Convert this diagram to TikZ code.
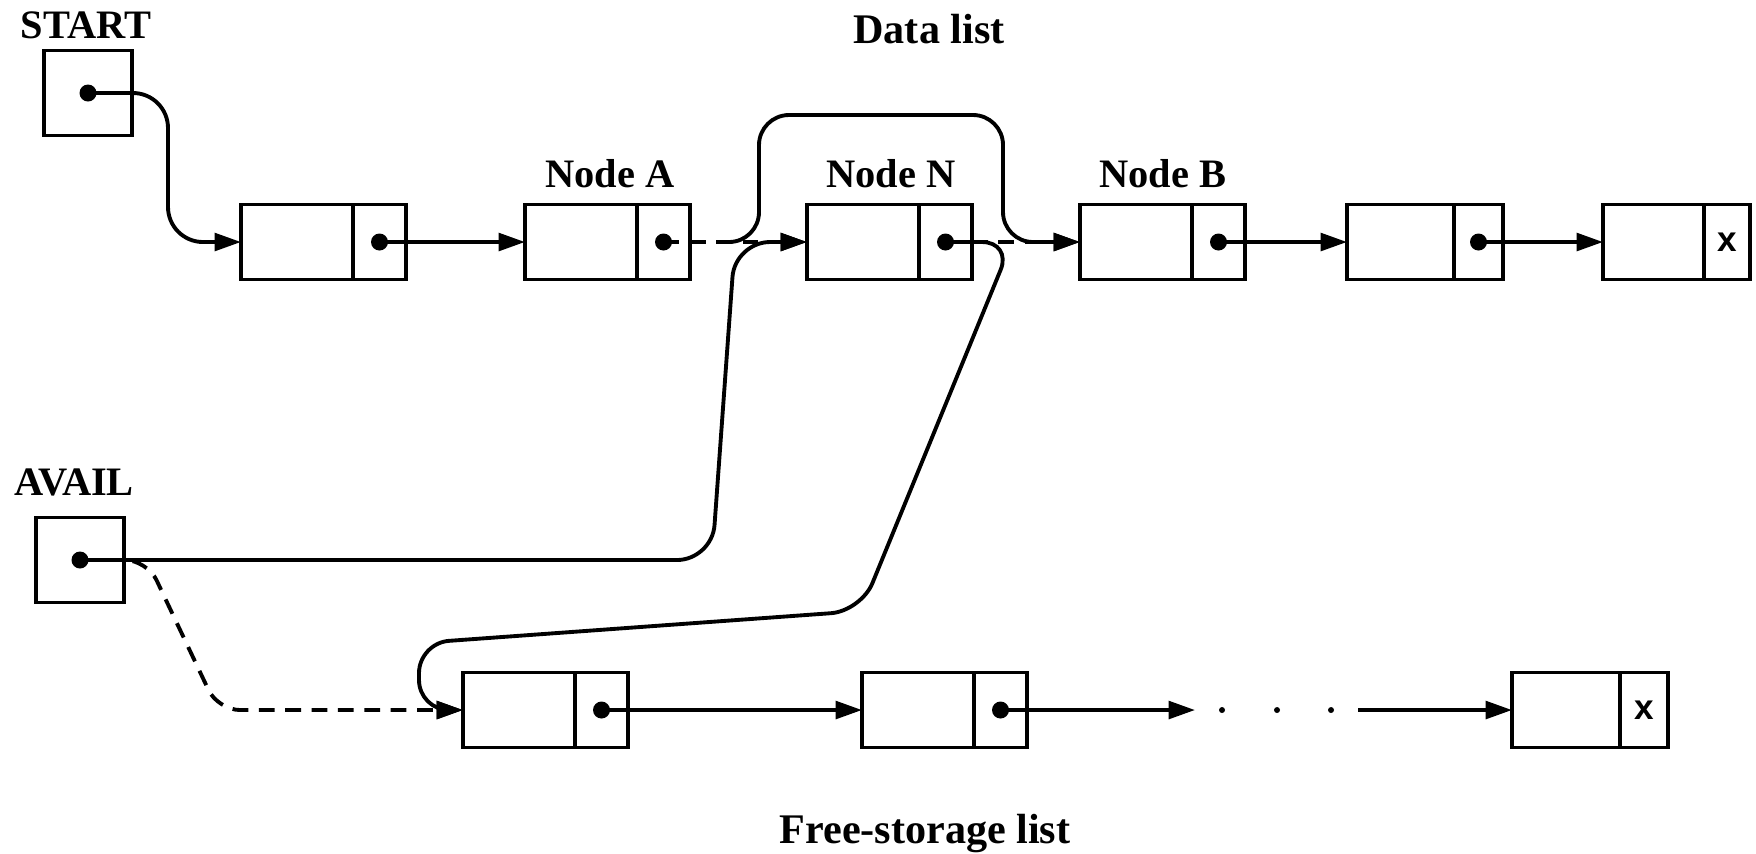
\documentclass[tikz,border=0pt]{standalone}
\usepackage{fontspec}
\setmainfont{Liberation Serif}
\setsansfont{Liberation Sans}
\usetikzlibrary{arrows.meta,positioning}
\tikzset{
  % data field of a list node
  cellD/.style={rectangle,draw,line width=1.1pt,outer sep=0pt,inner sep=0pt,
                minimum width=1.12cm,minimum height=0.75cm,anchor=west},
  % link field of a list node
  cellP/.style={rectangle,draw,line width=1.1pt,outer sep=0pt,inner sep=0pt,
                minimum width=0.53cm,minimum height=0.75cm,
                font=\sffamily\bfseries\fontsize{10}{12}\selectfont},
  % list head pointer
  headbox/.style={rectangle,draw,line width=1.1pt,outer sep=0pt,
                  minimum width=0.88cm,minimum height=0.85cm},
  % Arrows
  ptr/.style={-{Triangle[length=7.5pt,width=5pt]},line width=1.1pt},
  oldptr/.style={ptr,dash pattern=on 4.5pt off 3pt},
  % Label styles
  lbl/.style={font=\fontsize{11.5}{13}\selectfont\bfseries,inner sep=0pt,anchor=base},
  ttl/.style={font=\fontsize{12}{14}\selectfont\bfseries,inner sep=0pt,anchor=base}
}

\begin{document}
\begin{tikzpicture}
  \useasboundingbox (0,0) rectangle (17.56,-8.53);

  % heads
  \node[headbox] (start) at (0.88,-0.93) {};
  \node[headbox] (avail) at (0.80,-5.60) {};
  \node[lbl] (startlbl) at (0.86,-0.38) {START};
  \node[lbl] (availlbl) at (0.74,-4.95) {AVAIL};

  % data list
  \node[cellD] (n1) at (2.41,-2.42) {};
  \node[cellP,right=0pt of n1] (n1p) {};
  \node[cellD] (nA) at (5.25,-2.42) {};
  \node[cellP,right=0pt of nA] (nAp) {};
  \node[cellD] (nN) at (8.07,-2.42) {};
  \node[cellP,right=0pt of nN] (nNp) {};
  \node[cellD] (nB) at (10.80,-2.42) {};
  \node[cellP,right=0pt of nB] (nBp) {};
  \node[cellD,minimum width=1.07cm] (n5) at (13.47,-2.42) {};
  \node[cellP,minimum width=0.49cm,right=0pt of n5] (n5p) {};
  \node[cellD,minimum width=1.01cm] (n6) at (16.03,-2.42) {};
  \node[cellP,minimum width=0.46cm,right=0pt of n6] (n6p) {x};

  % free-storage list
  \node[cellD] (f1) at (4.63,-7.10) {};
  \node[cellP,right=0pt of f1] (f1p) {};
  \node[cellD] (f2) at (8.62,-7.10) {};
  \node[cellP,right=0pt of f2] (f2p) {};
  \node[cellD,minimum width=1.08cm] (f3) at (15.12,-7.10) {};
  \node[cellP,minimum width=0.48cm,right=0pt of f3] (f3p) {x};

  % labels
  \node[ttl] (datalbl) at (9.29,-0.43) {Data list};
  \node[ttl] (freelbl) at (9.25,-8.43) {Free-storage list};
  \node[lbl] (labA) at (6.10,-1.87) {Node A};
  \node[lbl] (labN) at (8.91,-1.87) {Node N};
  \node[lbl] (labB) at (11.63,-1.87) {Node B};

  % link dots
  \foreach \p in {start,avail,n1p,nAp,nNp,nBp,n5p,f1p,f2p}
    \fill (\p.center) circle (0.085cm);

  % gap in free list
  \coordinate (gapL) at (11.95,-7.10);
  \coordinate (gapR) at (13.58,-7.10);
  \foreach \x in {12.22,12.77,13.31}
    \fill (\x,-7.10) circle (0.03cm);

  % data list links
  \draw[ptr,rounded corners=0.35cm](start.center) -| (1.68,-2.42) -- (n1.west);
  \draw[ptr](n1p.center) -- (nA.west);
  \draw[oldptr](nAp.center) -- (nN.west);
  \draw[oldptr](nNp.center) -- (nB.west);
  \draw[ptr](nBp.center) -- (n5.west);
  \draw[ptr](n5p.center) -- (n6.west);

  % Node A now skips Node N
  \coordinate (Acut) at ([xshift=0.63cm]nAp.center);
  \draw[ptr,rounded corners=0.3cm](Acut) -| (7.59,-1.15) -| (10.03,-2.42) -- (nB.west);

  % Node N goes to the front of the free list
  \draw[ptr,rounded corners=0.3cm](nNp.center) -- (10.12,-2.42) -- (8.61,-6.11)
    -- (4.19,-6.43) -- (4.19,-7.10) -- (f1.west);

  % AVAIL now points at Node N
  \draw[ptr,rounded corners=0.35cm](avail.center) -- (7.12,-5.60) -- (7.35,-2.42) -- (nN.west);
  \draw[oldptr,rounded corners=0.22cm](avail.center) -- (1.47,-5.60) -- (2.18,-7.10) -- (f1.west);

  % free list links
  \draw[ptr](f1p.center) -- (f2.west);
  \draw[ptr](f2p.center) -- (gapL);
  \draw[ptr](gapR) -- (f3.west);
\end{tikzpicture}
\end{document}
